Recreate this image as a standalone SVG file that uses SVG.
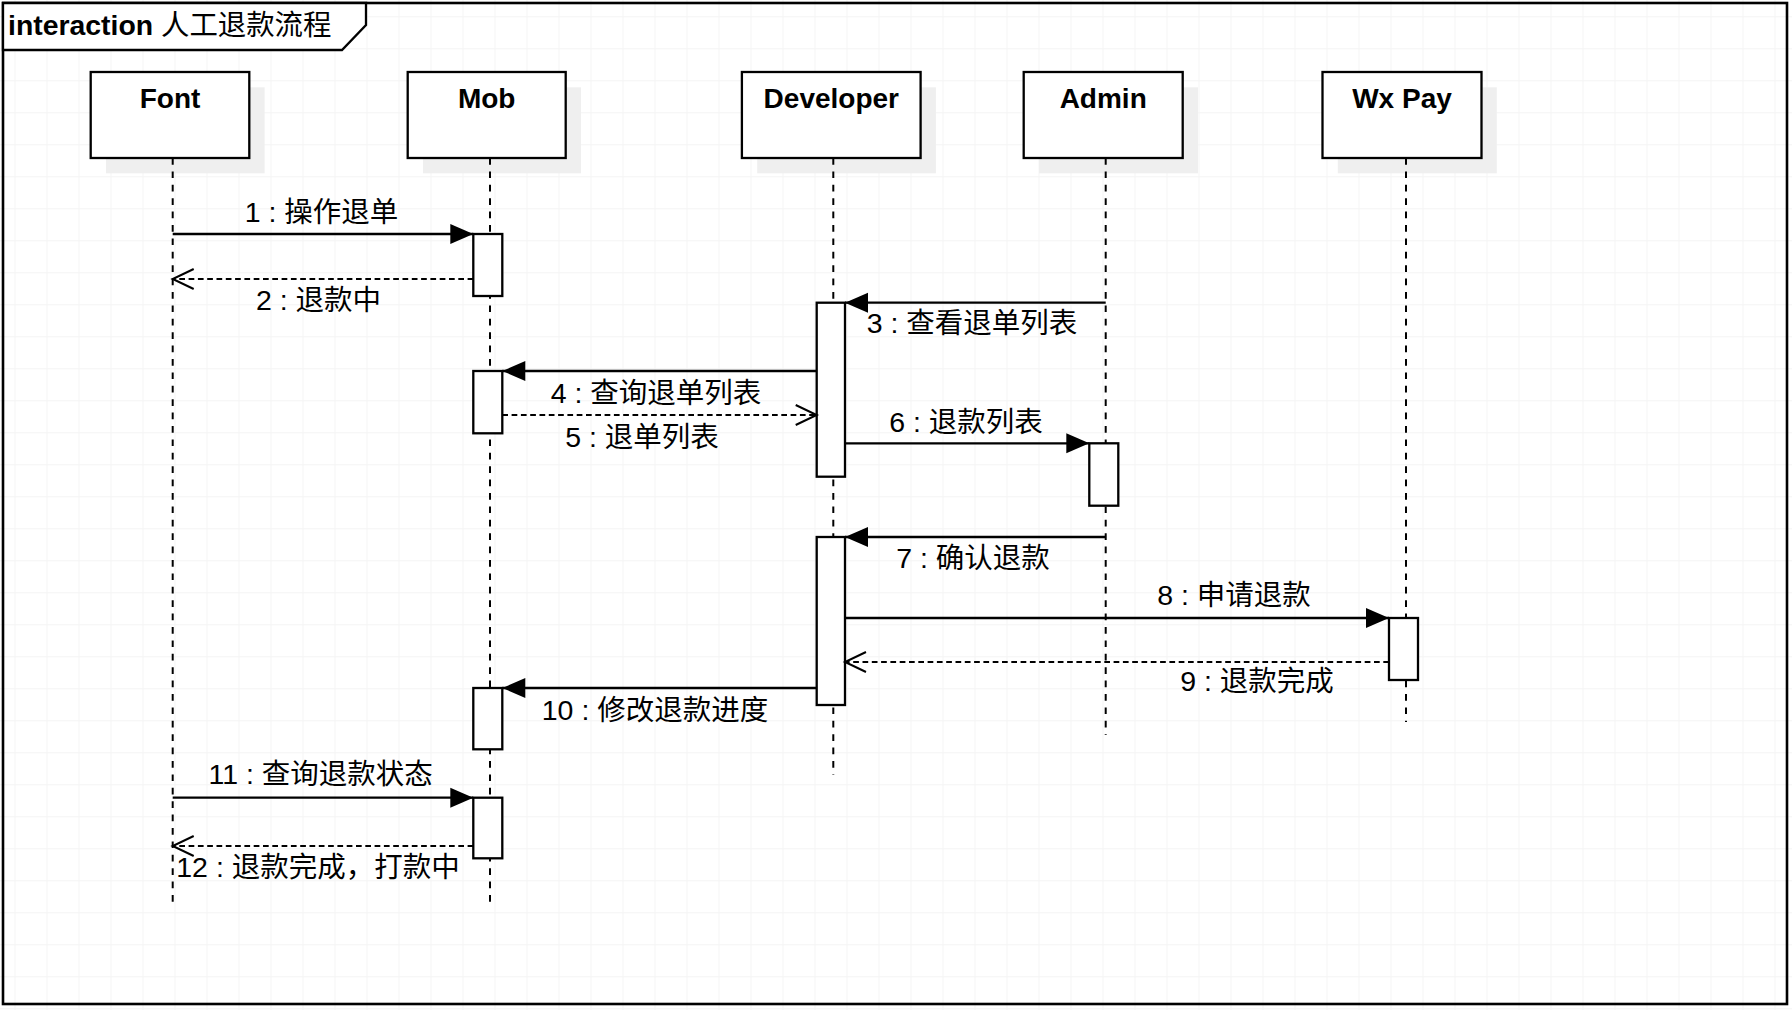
<svg xmlns="http://www.w3.org/2000/svg" width="1792" height="1010" viewBox="0 0 1792 1010">
<style>
.box{fill:#fff;stroke:#000;stroke-width:2.3}
.shadow{fill:#efefef;stroke:none}
.act{fill:#fff;stroke:#000;stroke-width:2.3}
.life{fill:none;stroke:#000;stroke-width:2;stroke-dasharray:6.7 6.7}
.name{font-family:"Liberation Sans","Noto Sans CJK SC",sans-serif;font-size:28px;font-weight:bold;text-anchor:middle;fill:#000}
.lbl{font-family:"Liberation Sans","Noto Sans CJK SC",sans-serif;font-size:28.5px;text-anchor:middle;fill:#000}
.msg{fill:none;stroke:#000;stroke-width:2.3}
.ret{fill:none;stroke:#000;stroke-width:2;stroke-dasharray:5.7 3.6}
</style>
<defs>
<pattern id="grid" patternUnits="userSpaceOnUse" x="14.5" y="16.3" width="32" height="32">
<path d="M0,0.5 H32 M0.5,0 V32" fill="none" stroke="#f4f4f4" stroke-width="1"/>
</pattern>
<marker id="filled" markerUnits="userSpaceOnUse" markerWidth="24" markerHeight="22" refX="23" refY="10" orient="auto" overflow="visible">
<path d="M0,0 L23,10 L0,20 z" fill="#000" stroke="none"/>
</marker>
<marker id="open" markerUnits="userSpaceOnUse" markerWidth="24" markerHeight="24" refX="21" refY="10" orient="auto" overflow="visible">
<path d="M0,0 L21,10 L0,20" fill="none" stroke="#000" stroke-width="2" stroke-dasharray="none"/>
</marker>
</defs>
<rect x="0" y="0" width="1792" height="1010" fill="#fff"/>
<rect x="0" y="0" width="1792" height="1010" fill="url(#grid)"/>

<g id="frame">
<rect x="3" y="3" width="1784" height="1001" fill="none" stroke="#000" stroke-width="2.6"/>
<path d="M3,3 H366 V25 L342,50 H3 z" fill="#fff" stroke="#000" stroke-width="2.3"/>
<text x="8" y="35" font-family="Liberation Sans,Noto Sans CJK SC,sans-serif" font-size="28.4" fill="#000"><tspan font-weight="bold">interaction</tspan> 人工退款流程</text>
</g>

<g id="font">
<rect class="shadow" x="106" y="87.3" width="158.6" height="86"/>
<line class="life" x1="172.7" y1="158" x2="172.7" y2="906"/>
<rect class="box" x="90.7" y="72" width="158.6" height="86"/>
<text class="name" x="170" y="108">Font</text>
</g>

<g id="mob">
<rect class="shadow" x="423" y="87.3" width="158" height="86"/>
<line class="life" x1="490" y1="158" x2="490" y2="906"/>
<rect class="box" x="407.7" y="72" width="158" height="86"/>
<text class="name" x="486.7" y="108">Mob</text>
<rect class="act" x="473.3" y="234" width="29" height="62"/>
<rect class="act" x="473.3" y="371" width="29" height="62.3"/>
<rect class="act" x="473.3" y="688" width="29" height="61.3"/>
<rect class="act" x="473.3" y="797.7" width="29" height="60.6"/>
</g>

<g id="developer">
<rect class="shadow" x="757.2" y="87.3" width="178.7" height="86"/>
<line class="life" x1="833.3" y1="158" x2="833.3" y2="775"/>
<rect class="box" x="741.9" y="72" width="178.7" height="86"/>
<text class="name" x="831.3" y="108">Developer</text>
<rect class="act" x="816.7" y="302.7" width="28.3" height="174"/>
<rect class="act" x="816.7" y="537" width="28.3" height="168"/>
</g>

<g id="admin">
<rect class="shadow" x="1039" y="87.3" width="159" height="86"/>
<line class="life" x1="1105.7" y1="158" x2="1105.7" y2="735"/>
<rect class="box" x="1023.7" y="72" width="159" height="86"/>
<text class="name" x="1103.2" y="108">Admin</text>
<rect class="act" x="1089.3" y="443.3" width="29" height="62.4"/>
</g>

<g id="wxpay">
<rect class="shadow" x="1337.8" y="87.3" width="159" height="86"/>
<line class="life" x1="1406" y1="158" x2="1406" y2="722"/>
<rect class="box" x="1322.5" y="72" width="159" height="86"/>
<text class="name" x="1402" y="108">Wx Pay</text>
<rect class="act" x="1389" y="618" width="29" height="62"/>
</g>

<g id="connectors">
<path class="msg" d="M172.7,234 H473.3" marker-end="url(#filled)"/>
<path class="ret" d="M473.3,279 H172.7" marker-end="url(#open)"/>
<path class="msg" d="M1105.7,302.7 H845" marker-end="url(#filled)"/>
<path class="msg" d="M816.7,371 H502.3" marker-end="url(#filled)"/>
<path class="ret" d="M502.3,415 H816.7" marker-end="url(#open)"/>
<path class="msg" d="M845,443.3 H1089.3" marker-end="url(#filled)"/>
<path class="msg" d="M1105.7,537 H845" marker-end="url(#filled)"/>
<path class="msg" d="M845,618 H1389" marker-end="url(#filled)"/>
<path class="ret" d="M1389,662 H845" marker-end="url(#open)"/>
<path class="msg" d="M816.7,688 H502.3" marker-end="url(#filled)"/>
<path class="msg" d="M172.7,797.7 H473.3" marker-end="url(#filled)"/>
<path class="ret" d="M473.3,846 H172.7" marker-end="url(#open)"/>
<text class="lbl" x="321.5" y="222">1 : 操作退单</text>
<text class="lbl" x="318.5" y="310">2 : 退款中</text>
<text class="lbl" x="972" y="333">3 : 查看退单列表</text>
<text class="lbl" x="656" y="402.7">4 : 查询退单列表</text>
<text class="lbl" x="642" y="446.7">5 : 退单列表</text>
<text class="lbl" x="966" y="431.7">6 : 退款列表</text>
<text class="lbl" x="973" y="567.5">7 : 确认退款</text>
<text class="lbl" x="1234" y="604.5">8 : 申请退款</text>
<text class="lbl" x="1257" y="691">9 : 退款完成</text>
<text class="lbl" x="655" y="720">10 : 修改退款进度</text>
<text class="lbl" x="320.7" y="784.3">11 : 查询退款状态</text>
<text class="lbl" x="318" y="876.7">12 : 退款完成，打款中</text>
</g>
</svg>
